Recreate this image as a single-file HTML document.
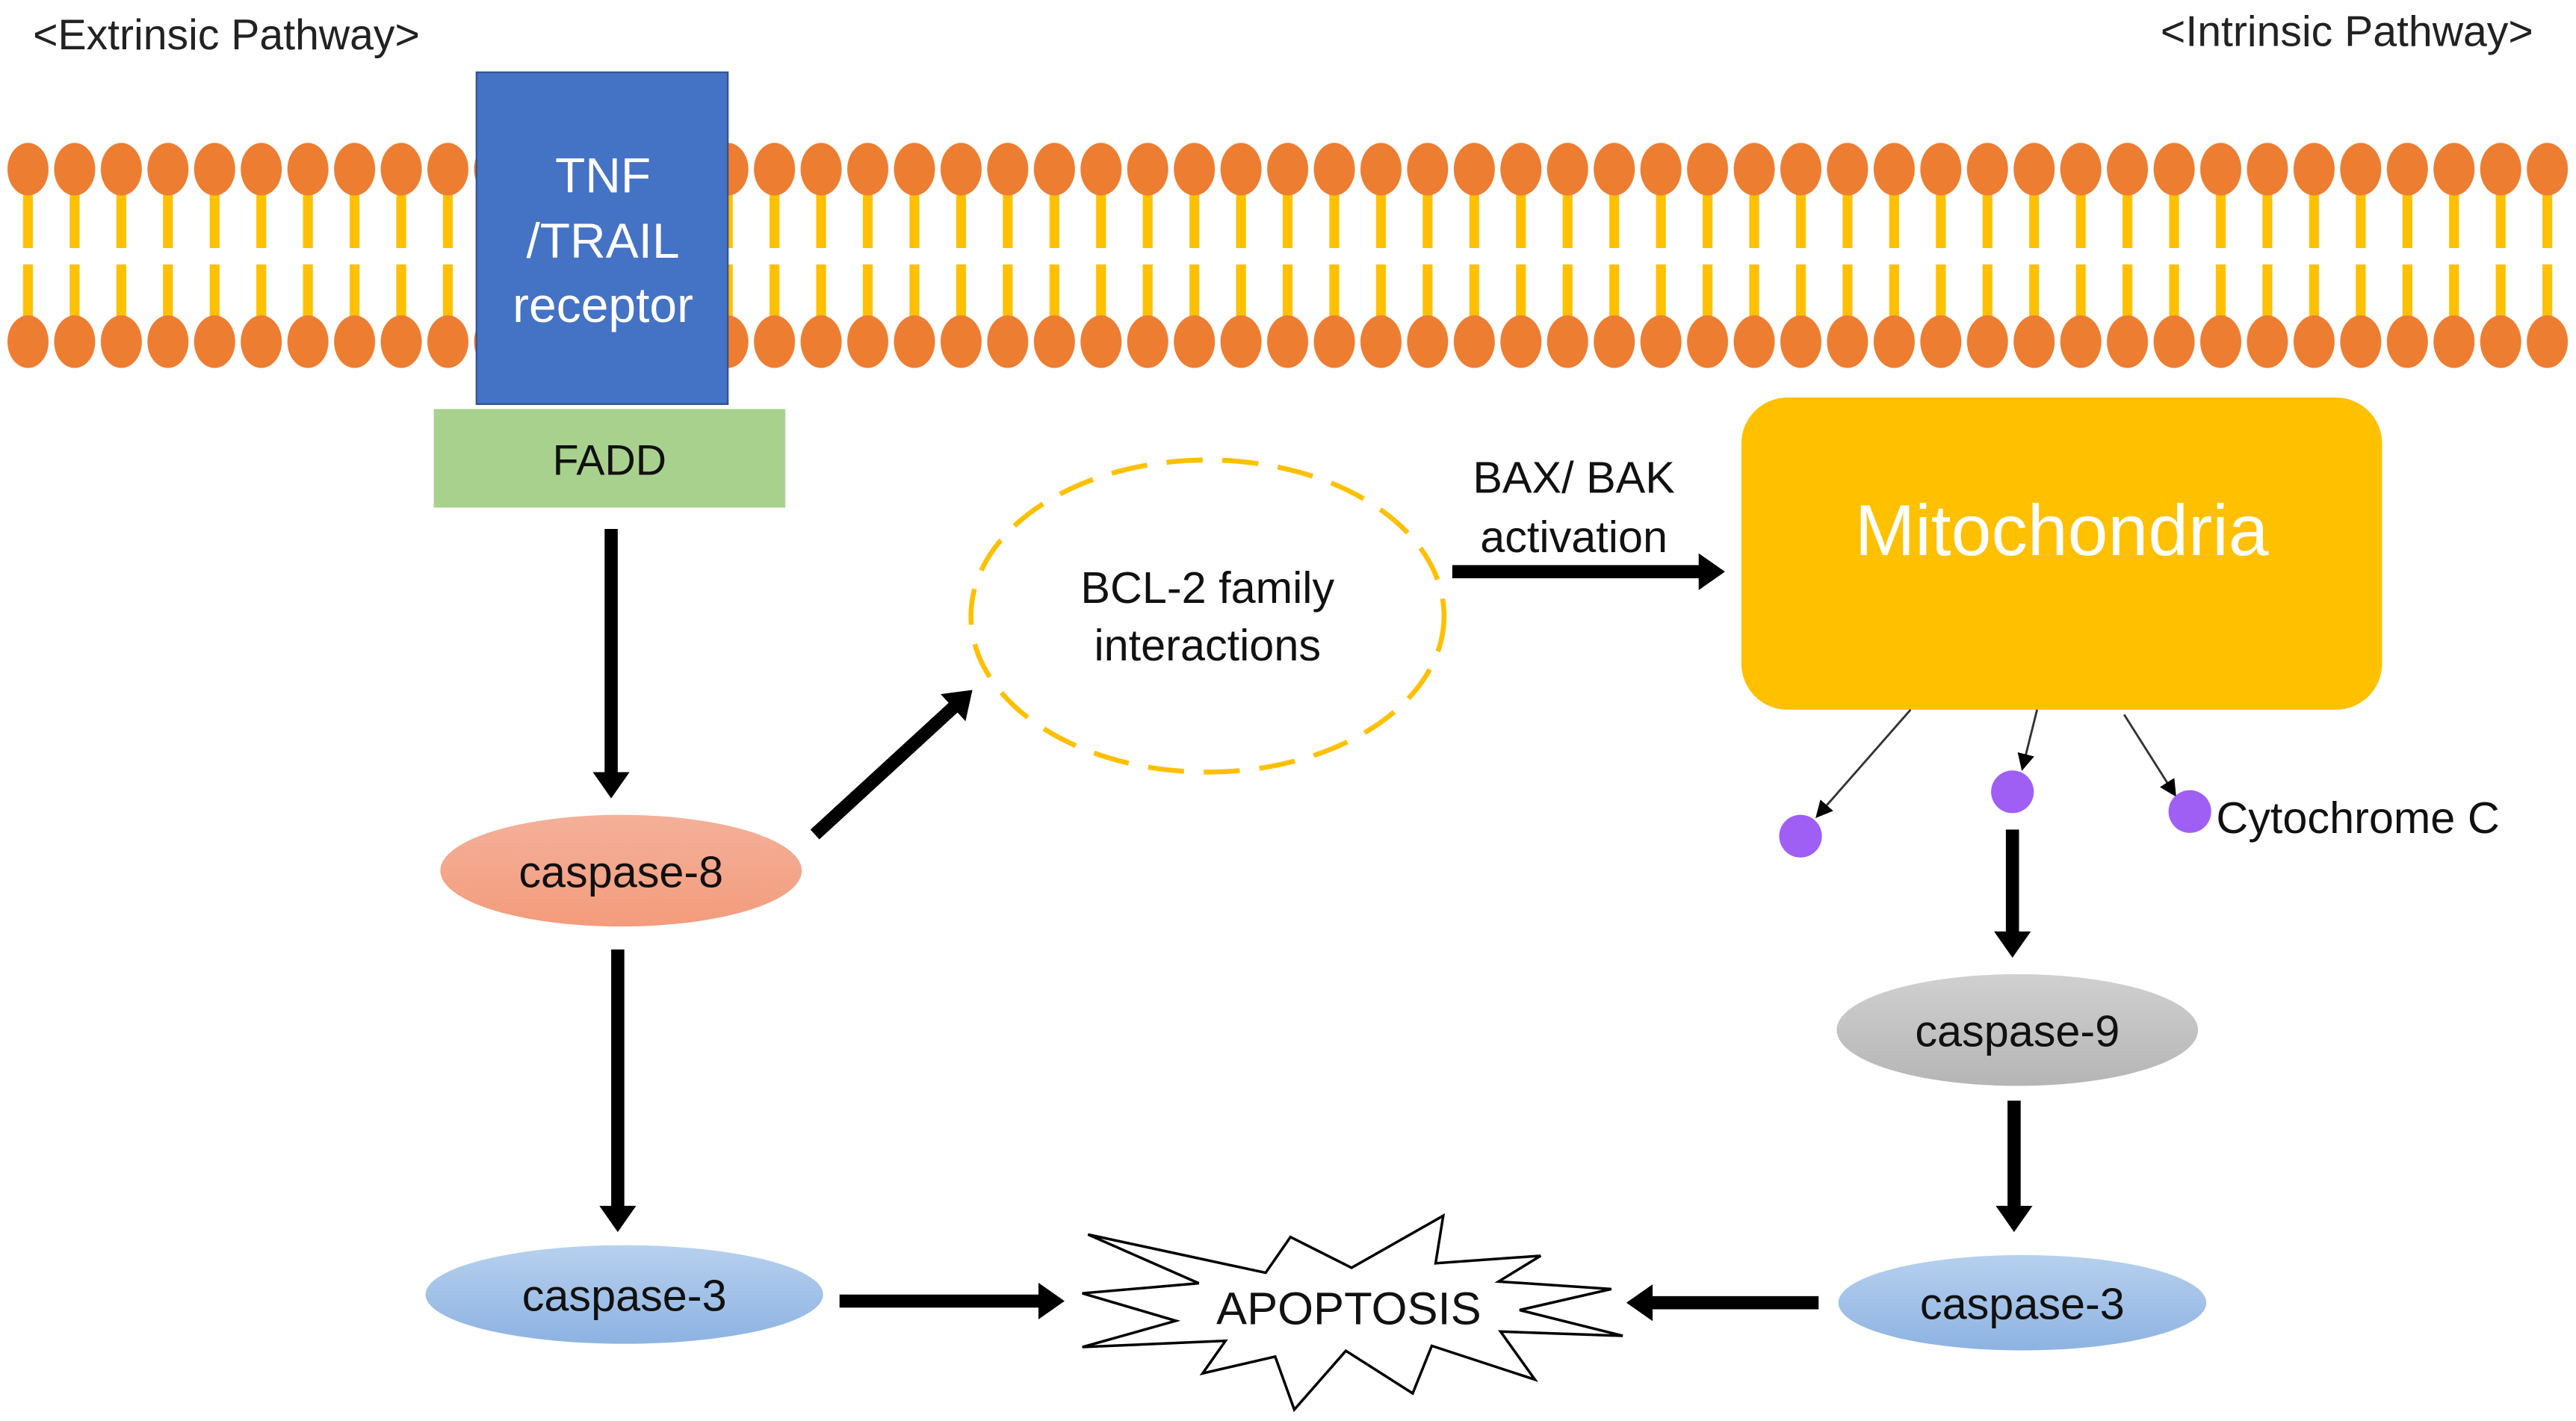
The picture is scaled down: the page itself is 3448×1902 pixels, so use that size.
<!DOCTYPE html>
<html><head><meta charset="utf-8"><style>html,body{margin:0;padding:0;background:#fff}svg{display:block}</style></head>
<body>
<svg width="3448" height="1902" viewBox="0 0 1568 865" xmlns="http://www.w3.org/2000/svg" font-family="Liberation Sans, DejaVu Sans, sans-serif">
<defs>
<pattern id="lip" patternUnits="userSpaceOnUse" x="2.8" y="0" width="28.4" height="865">
<rect x="11.2" y="116" width="6" height="35" fill="#FFC000"/>
<rect x="11.2" y="161" width="6" height="33" fill="#FFC000"/>
<ellipse cx="14.2" cy="103" rx="12.5" ry="16" fill="#ED7D31"/>
<ellipse cx="14.2" cy="208" rx="12.5" ry="16" fill="#ED7D31"/>
</pattern>
<marker id="ah" markerWidth="2" markerHeight="2.8" refX="1" refY="1.4" orient="auto" markerUnits="strokeWidth"><path d="M0,0 L2,1.4 L0,2.8 Z" fill="#000"/></marker>
<marker id="ah2" markerWidth="8" markerHeight="8" refX="7" refY="4" orient="auto" markerUnits="strokeWidth"><path d="M0,0 L8,4 L0,8 Z" fill="#000"/></marker>
<linearGradient id="gs" x1="0" y1="0" x2="0" y2="1"><stop offset="0" stop-color="#F4B09A"/><stop offset="1" stop-color="#F39C7C"/></linearGradient>
<linearGradient id="gb" x1="0" y1="0" x2="0" y2="1"><stop offset="0" stop-color="#B7D0EE"/><stop offset="1" stop-color="#8DB3E2"/></linearGradient>
<linearGradient id="gg" x1="0" y1="0" x2="0" y2="1"><stop offset="0" stop-color="#D0D0D0"/><stop offset="1" stop-color="#B5B5B5"/></linearGradient>
</defs>
<text x="20" y="30" font-size="26" fill="#222">&lt;Extrinsic Pathway&gt;</text>
<text x="1542" y="28" font-size="26" fill="#222" text-anchor="end">&lt;Intrinsic Pathway&gt;</text>
<rect x="3" y="85" width="1562" height="142" fill="url(#lip)"/>
<rect x="290" y="44" width="153" height="202" fill="#4472C4" stroke="#2F528F" stroke-width="1"/>
<g fill="#fff" font-size="30" text-anchor="middle"><text x="367" y="117">TNF</text><text x="367" y="157">/TRAIL</text><text x="367" y="196">receptor</text></g>
<rect x="264" y="249" width="214" height="60" fill="#A9D18E"/>
<text x="371" y="289" font-size="26" text-anchor="middle" fill="#111">FADD</text>
<g stroke="#000" stroke-width="8" fill="none">
<line x1="372" y1="322" x2="372" y2="478" marker-end="url(#ah)"/>
<line x1="376" y1="578" x2="376" y2="742" marker-end="url(#ah)"/>
<line x1="511" y1="792" x2="640" y2="792" marker-end="url(#ah)"/>
<line x1="496" y1="508" x2="586" y2="425.4" marker-end="url(#ah)"/>
<line x1="884" y1="348" x2="1042" y2="348" marker-end="url(#ah)"/>
<line x1="1225" y1="505" x2="1225" y2="575" marker-end="url(#ah)"/>
<line x1="1226" y1="670" x2="1226" y2="742" marker-end="url(#ah)"/>
<line x1="1107" y1="793" x2="998" y2="793" marker-end="url(#ah)"/>
</g>
<ellipse cx="378" cy="530" rx="110" ry="34" fill="url(#gs)"/>
<text x="378" y="540" font-size="27" text-anchor="middle" fill="#111">caspase-8</text>
<ellipse cx="380" cy="788" rx="121" ry="30" fill="url(#gb)"/>
<text x="380" y="798" font-size="27" text-anchor="middle" fill="#111">caspase-3</text>
<ellipse cx="735" cy="375" rx="144" ry="95" fill="none" stroke="#FFC000" stroke-width="3" stroke-dasharray="22,12"/>
<g font-size="27" text-anchor="middle" fill="#111"><text x="735" y="367">BCL-2 family</text><text x="735" y="402">interactions</text></g>
<g font-size="27" text-anchor="middle" fill="#111"><text x="958" y="300">BAX/ BAK</text><text x="958" y="336">activation</text></g>
<rect x="1060" y="242" width="390" height="190" rx="28" fill="#FFC000"/>
<text x="1255" y="338" font-size="44" text-anchor="middle" fill="#fff">Mitochondria</text>
<g stroke="#333" stroke-width="1.3" fill="none">
<line x1="1163" y1="432" x2="1106" y2="497" marker-end="url(#ah2)"/>
<line x1="1240" y1="432" x2="1231" y2="468" marker-end="url(#ah2)"/>
<line x1="1293" y1="435" x2="1324" y2="484" marker-end="url(#ah2)"/>
</g>
<g fill="#9F5FF5"><circle cx="1096" cy="509" r="13"/><circle cx="1225" cy="482" r="13"/><circle cx="1333" cy="494" r="13"/></g>
<text x="1349" y="507" font-size="27" fill="#111">Cytochrome C</text>
<ellipse cx="1228" cy="627" rx="110" ry="34" fill="url(#gg)"/>
<text x="1228" y="637" font-size="27" text-anchor="middle" fill="#111">caspase-9</text>
<ellipse cx="1231" cy="793" rx="112" ry="29" fill="url(#gb)"/>
<text x="1231" y="803" font-size="27" text-anchor="middle" fill="#111">caspase-3</text>
<g transform="translate(636.7,727.1) scale(0.2325,0.1523)">
<polygon points="110,160 400,355 95,395 340,505 95,610 470,585 410,715 600,648 650,860 785,625 960,795 1010,605 1280,740 1190,548 1510,565 1240,462 1480,378 1185,348 1295,245 1020,275 1040,85 800,293 640,170 575,313" fill="#fff" stroke="#000" stroke-width="3.5" vector-effect="non-scaling-stroke"/>
</g>
<text x="821" y="806" font-size="28" text-anchor="middle" fill="#111">APOPTOSIS</text>
</svg>
</body></html>
